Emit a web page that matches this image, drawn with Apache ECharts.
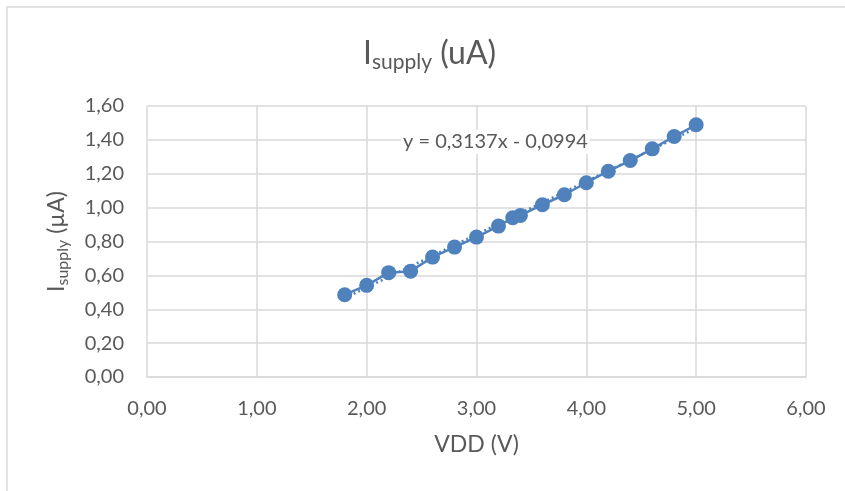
<!DOCTYPE html>
<html>
<head>
<meta charset="utf-8">
<script src="https://cdn.jsdelivr.net/npm/echarts@6/dist/echarts.min.js"></script>
<style>
  html, body { margin: 0; padding: 0; background: #fff; }
  #chart { width: 845px; height: 491px; }
</style>
</head>
<body>
<div id="chart"></div>
<script>
// ---- data ----
const vdd = [1.8, 2.0, 2.2, 2.4, 2.6, 2.8, 3.0, 3.2, 3.33, 3.4, 3.6, 3.8, 4.0, 4.2, 4.4, 4.6, 4.8, 5.0];
const isupply = [0.486, 0.541, 0.616, 0.625, 0.708, 0.767, 0.826, 0.891, 0.940, 0.954, 1.017, 1.076, 1.147, 1.215, 1.278, 1.347, 1.420, 1.489];
const trendCoef = [0.3137, -0.0994]; // slope, intercept (Excel linear trendline)
const trendLabel = 'y = 0,3137x - 0,0994';
const xTicks = [0, 1, 2, 3, 4, 5, 6];
const yTicks = [0, 0.2, 0.4, 0.6, 0.8, 1.0, 1.2, 1.4, 1.6];

const FONT = 'Lato';
const TXT = '#595959';
const GRIDC = '#d9d9d9';
const BLUE = '#4f81bd';

const points = vdd.map((x, i) => [x, isupply[i]]);
const xs = [vdd[0], vdd[vdd.length - 1]];
const trend = xs.map(x => [x, trendCoef[0] * x + trendCoef[1]]);
const fmt = v => v.toFixed(2).replace('.', ',');

const chart = echarts.init(document.getElementById('chart'), null, { renderer: 'canvas' });
chart.setOption({
  backgroundColor: '#fff',
  animation: false,
  textStyle: { fontFamily: FONT, color: TXT },
  title: {
    text: '{m|I}{s|supply}{m| (uA)}',
    left: 358,
    top: 30,
    textStyle: {
      fontWeight: 'normal',
      rich: {
        m: { fontFamily: FONT, fontSize: 32, fontWeight: 'normal', color: TXT, lineHeight: 38 },
        s: { fontFamily: FONT, fontSize: 21, fontWeight: 'normal', color: TXT, lineHeight: 22, verticalAlign: 'bottom' }
      }
    }
  },
  graphic: [
    {
      type: 'rect', silent: true, z: -10,
      shape: { x: 7, y: 7, width: 900, height: 600 },
      style: { fill: '#fff', stroke: GRIDC, lineWidth: 1.5 }
    },
    {
      type: 'text', silent: true, z: 100,
      x: 401, y: 142,
      style: {
        text: trendLabel, fontFamily: FONT, fontSize: 20, fill: TXT,
        verticalAlign: 'middle', align: 'left',
        backgroundColor: '#fff', padding: [2, 2, 2, 2]
      }
    }
  ],
  grid: { left: 147, right: 39, top: 106, bottom: 114, containLabel: false },
  xAxis: {
    type: 'value',
    min: xTicks[0], max: xTicks[xTicks.length - 1], interval: 1,
    name: 'VDD (V)',
    nameLocation: 'middle',
    nameGap: 56,
    nameTextStyle: { fontFamily: FONT, fontSize: 23, color: TXT },
    axisLine: { show: true, lineStyle: { color: GRIDC, width: 1.5 } },
    axisTick: { show: false },
    axisLabel: { formatter: fmt, fontFamily: FONT, fontSize: 20, color: TXT, margin: 22 },
    splitLine: { show: true, lineStyle: { color: GRIDC, width: 1.5 } }
  },
  yAxis: {
    type: 'value',
    min: yTicks[0], max: yTicks[yTicks.length - 1], interval: 0.2,
    name: '{m|I}{s|supply}{m| (µA)}',
    nameLocation: 'middle',
    nameGap: 76,
    nameRotate: 90,
    nameTextStyle: {
      rich: {
        m: { fontFamily: FONT, fontSize: 23, color: TXT, lineHeight: 28 },
        s: { fontFamily: FONT, fontSize: 16, color: TXT, lineHeight: 16, verticalAlign: 'bottom' }
      }
    },
    axisLine: { show: false },
    axisTick: { show: false },
    axisLabel: { formatter: fmt, fontFamily: FONT, fontSize: 20, color: TXT, margin: 23 },
    splitLine: { show: true, lineStyle: { color: GRIDC, width: 1.5 } }
  },
  series: [
    {
      type: 'line',
      data: trend,
      showSymbol: false,
      symbol: 'none',
      lineStyle: { color: BLUE, width: 2.5, type: [2, 3] },
      z: 1
    },
    {
      type: 'line',
      data: points,
      symbol: 'circle',
      symbolSize: 15,
      itemStyle: { color: BLUE },
      lineStyle: { color: BLUE, width: 2.5 },
      z: 2
    }
  ]
});
</script>
</body>
</html>
